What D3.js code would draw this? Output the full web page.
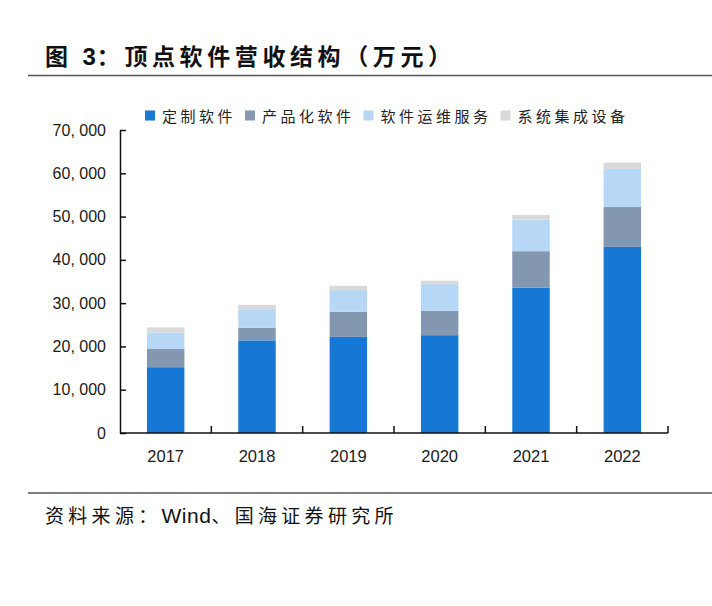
<!DOCTYPE html>
<html><head><meta charset="utf-8">
<script src="https://cdn.jsdelivr.net/npm/d3@7/dist/d3.min.js"></script>
<style>
html,body{margin:0;padding:0;background:#fff;}
svg{display:block;}
</style></head>
<body>
<script>
const categories = ["2017","2018","2019","2020","2021","2022"];
const seriesNames = ["定制软件","产品化软件","软件运维服务","系统集成设备"];
const customSoftware = [15200,21400,22200,22600,33600,43000];
const productSoftware = [4200,2900,5800,5600,8400,9200];
const maintenanceService = [3800,4300,5000,6200,7300,8800];
const systemIntegration = [1200,1000,1000,800,1100,1500];
const yTicks = [0,10000,20000,30000,40000,50000,60000,70000];
const colors = ["#1677d4","#8497b0","#b7d7f7","#d9d9d9"];

(function(){
const W = 712, H = 606;
const svg = d3.select("body").append("svg").attr("width",W).attr("height",H);

// title
const title = svg.append("text").attr("x",45).attr("y",65)
  .attr("font-family","'Noto Sans CJK SC', sans-serif").attr("font-weight","bold")
  .attr("font-size",23).attr("letter-spacing",4.6).attr("fill","#111");
title.append("tspan").text("图 ");
title.append("tspan").attr("font-family","'Liberation Sans', Arial, sans-serif").attr("font-size",24).attr("letter-spacing",1).text("3");
title.append("tspan").text("：顶点软件营收结构（万元）");
svg.append("line").attr("x1",28).attr("x2",712).attr("y1",75.5).attr("y2",75.5)
  .attr("stroke","#555").attr("stroke-width",1.5);

// chart
const mLeft = 120, mRight = 668, mTop = 130, mBottom = 433;
const x = d3.scaleBand().domain(categories).range([mLeft,mRight]).paddingInner(0.59).paddingOuter(0.295);
const y = d3.scaleLinear().domain([0,70000]).range([mBottom,mTop]);

const table = categories.map((c,i)=>({cat:c, s0:customSoftware[i], s1:productSoftware[i], s2:maintenanceService[i], s3:systemIntegration[i]}));
const stack = d3.stack().keys(["s0","s1","s2","s3"])(table);

svg.append("g").selectAll("g").data(stack).join("g")
  .attr("fill",(d,i)=>colors[i])
  .selectAll("rect").data(d=>d).join("rect")
  .attr("x",d=>x(d.data.cat)).attr("width",x.bandwidth())
  .attr("y",d=>y(d[1])).attr("height",d=>y(d[0])-y(d[1]));

// y axis
const yAxis = d3.axisLeft(y).tickValues(yTicks).tickSizeInner(-6).tickSizeOuter(0).tickPadding(14)
  .tickFormat(d=>d3.format(",")(d).replace(/,/g,", "));
const gy = svg.append("g").attr("transform",`translate(${mLeft},0)`).call(yAxis);
gy.selectAll("text").attr("font-family","'Liberation Sans', Arial, sans-serif").attr("font-size",16).attr("fill","#1a1a1a");
gy.selectAll("line,path").attr("stroke","#111").attr("stroke-width",1.5);

// x axis
const xAxis = d3.axisBottom(x).tickSize(0).tickPadding(17);
const gx = svg.append("g").attr("transform",`translate(0,${mBottom})`).call(xAxis);
gx.select("path").attr("d",`M${mLeft},0H${mRight}`).attr("stroke","#111").attr("stroke-width",1.5);
gx.selectAll("text").attr("font-family","'Liberation Sans', Arial, sans-serif").attr("font-size",16.5).attr("fill","#1a1a1a");
const step = x.step();
const bounds = d3.range(1, categories.length+1).map(i=>x(categories[0]) - x.paddingOuter()*step + i*step);
gx.append("g").selectAll("line").data(bounds).join("line")
  .attr("x1",d=>d).attr("x2",d=>d).attr("y1",0).attr("y2",-7)
  .attr("stroke","#111").attr("stroke-width",1.5);

// legend
const lg = svg.append("g").attr("transform","translate(145,0)");
let lx = 0;
seriesNames.forEach((name,i)=>{
  lg.append("rect").attr("x",lx).attr("y",110.5).attr("width",10).attr("height",10).attr("fill",colors[i]);
  const t = lg.append("text").attr("x",lx+17).attr("y",121.5)
    .attr("font-family","'Noto Sans CJK SC', sans-serif").attr("font-size",15)
    .attr("letter-spacing",3.5).attr("fill","#222").text(name);
  lx += 17 + t.node().getComputedTextLength() + 9;
});

// bottom rule and source
svg.append("line").attr("x1",28).attr("x2",712).attr("y1",493).attr("y2",493)
  .attr("stroke","#555").attr("stroke-width",1.5);
const src = svg.append("text").attr("x",45).attr("y",523)
  .attr("font-family","'Noto Sans CJK SC', sans-serif").attr("font-size",19)
  .attr("letter-spacing",4.3).attr("fill","#111");
src.append("tspan").text("资料来源：");
src.append("tspan").attr("font-family","'Liberation Sans', Arial, sans-serif").attr("font-size",21).attr("letter-spacing",0.5).text("Wind");
src.append("tspan").text("、国海证券研究所");
})();
</script>
</body></html>
